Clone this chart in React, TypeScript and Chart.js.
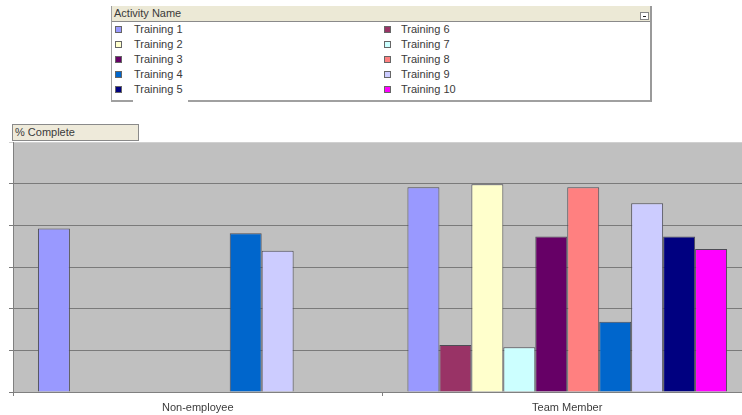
import React, { useEffect, useRef } from "react";
import { Chart, registerables } from "chart.js";

Chart.register(...registerables);

// Categories along the x axis
const categories = ["Non-employee", "Team Member"];

// Series values (% complete) per category: [Non-employee, Team Member]
const training1 = [78.5, 98.3];
const training6 = [null, 22.6];
const training2 = [null, 99.7];
const training7 = [null, 21.5];
const training3 = [null, 74.6];
const training8 = [null, 98.3];
const training4 = [76.2, 33.7];
const training9 = [67.8, 90.6];
const training5 = [null, 74.6];
const training10 = [null, 68.6];

// Series order as plotted (legend fills row by row in two columns)
const seriesNames = [
  "Training 1", "Training 6", "Training 2", "Training 7", "Training 3",
  "Training 8", "Training 4", "Training 9", "Training 5", "Training 10",
];
const seriesValues = [
  training1, training6, training2, training7, training3,
  training8, training4, training9, training5, training10,
];
const seriesColors = [
  "#9999FF", "#993366", "#FFFFCC", "#CCFFFF", "#660066",
  "#FF8080", "#0066CC", "#CCCCFF", "#000080", "#FF00FF",
];

// Value axis range
const yMin = 0;
const yMax = 120;
const yStep = 20;

const FONT = 'Arial, "Liberation Sans", sans-serif';

const plotBackground = {
  id: "plotBackground",
  beforeDraw(chart: any) {
    const { ctx, chartArea } = chart;
    const { left, top, right, bottom } = chartArea;
    ctx.save();
    ctx.fillStyle = "#C0C0C0";
    ctx.fillRect(left, top, right - left, bottom - top);
    ctx.restore();
  },
};

export default function App() {
  const canvasRef = useRef<HTMLCanvasElement | null>(null);

  useEffect(() => {
    if (!canvasRef.current) return;
    const chart = new Chart(canvasRef.current, {
      type: "bar",
      data: {
        labels: categories,
        datasets: seriesNames.map((name, i) => ({
          label: name,
          data: seriesValues[i],
          backgroundColor: seriesColors[i],
          borderColor: "#4d4d55",
          borderWidth: 1,
          barPercentage: 1,
          categoryPercentage: 0.865,
        })),
      },
      options: {
        animation: false,
        responsive: false,
        devicePixelRatio: 1,
        layout: { padding: { left: 9, right: 2, top: 142, bottom: 0 } },
        plugins: {
          legend: { display: false },
          tooltip: { enabled: false },
        },
        scales: {
          x: {
            grid: {
              display: true,
              drawOnChartArea: false,
              drawTicks: true,
              tickLength: 4,
              color: "#808080",
            },
            border: { display: true, color: "#808080", width: 1 },
            ticks: {
              font: { family: FONT, size: 11 },
              color: "#3c3c3c",
              padding: 5,
              maxRotation: 0,
            },
            afterFit: (scale: any) => {
              scale.height = 23;
            },
          },
          y: {
            min: yMin,
            max: yMax,
            ticks: { display: false, stepSize: yStep },
            grid: {
              drawTicks: true,
              tickLength: 4,
              lineWidth: 1,
              color: (ctx: any) =>
                ctx.tick && ctx.tick.value === yMax ? "#d0d0d0" : "#7a7a7a",
            },
            border: { display: true, color: "#808080", width: 1 },
            afterFit: (scale: any) => {
              scale.width = 4;
            },
          },
        },
      },
      plugins: [plotBackground],
    });
    return () => chart.destroy();
  }, []);

  const textStyle: React.CSSProperties = {
    position: "absolute",
    fontFamily: FONT,
    fontSize: 11,
    color: "#3a3a3a",
    lineHeight: "13px",
    whiteSpace: "nowrap",
  };

  return (
    <div
      style={{
        position: "absolute",
        left: 0,
        top: 0,
        width: 742,
        height: 415,
        overflow: "hidden",
        background: "#fff",
      }}
    >
      <canvas
        ref={canvasRef}
        width={754}
        height={415}
        style={{ position: "absolute", left: 0, top: 0, width: 754, height: 415 }}
      />

      {/* Legend panel */}
      <div
        style={{
          position: "absolute",
          left: 111,
          top: 6,
          width: 541,
          height: 96,
          boxSizing: "border-box",
          background: "#fff",
          borderLeft: "1px solid #a0a0a0",
          borderRight: "2px solid #9a9a9a",
          borderBottom: "2px solid #a0a0a0",
        }}
      >
        <div
          style={{
            position: "absolute",
            left: 0,
            top: 0,
            right: 0,
            height: 15,
            background: "#ECE9D6",
            borderBottom: "1px solid #8a8a8a",
          }}
        />
        <div style={{ ...textStyle, left: 2, top: 1 }}>Activity Name</div>
        <div
          style={{
            position: "absolute",
            right: 1,
            top: 6,
            width: 9,
            height: 8,
            boxSizing: "border-box",
            background: "#fff",
            border: "1px solid #888",
          }}
        >
          <div
            style={{
              position: "absolute",
              left: 2,
              top: 3,
              width: 3,
              height: 1,
              background: "#222",
            }}
          />
        </div>
      </div>
      <div
        style={{
          position: "absolute",
          left: 133,
          top: 99,
          width: 55,
          height: 4,
          background: "#fff",
        }}
      />
      {seriesNames.map((name, i) => {
        const col = i % 2;
        const row = Math.floor(i / 2);
        const cy = 29.5 + row * 15;
        const sqLeft = col === 0 ? 115 : 384;
        const txLeft = col === 0 ? 134 : 401;
        return (
          <React.Fragment key={name}>
            <div
              style={{
                position: "absolute",
                left: sqLeft,
                top: Math.round(cy - 3.5),
                width: 7,
                height: 7,
                boxSizing: "border-box",
                background: seriesColors[i],
                border: "1px solid #666",
              }}
            />
            <div style={{ ...textStyle, left: txLeft, top: Math.round(cy - 6.5) }}>
              {name}
            </div>
          </React.Fragment>
        );
      })}

      {/* Value field label */}
      <div
        style={{
          position: "absolute",
          left: 12,
          top: 124,
          width: 127,
          height: 17,
          boxSizing: "border-box",
          background: "#EEEADA",
          border: "1px solid #8a8a8a",
        }}
      />
      <div style={{ ...textStyle, left: 15, top: 126 }}>% Complete</div>
    </div>
  );
}
